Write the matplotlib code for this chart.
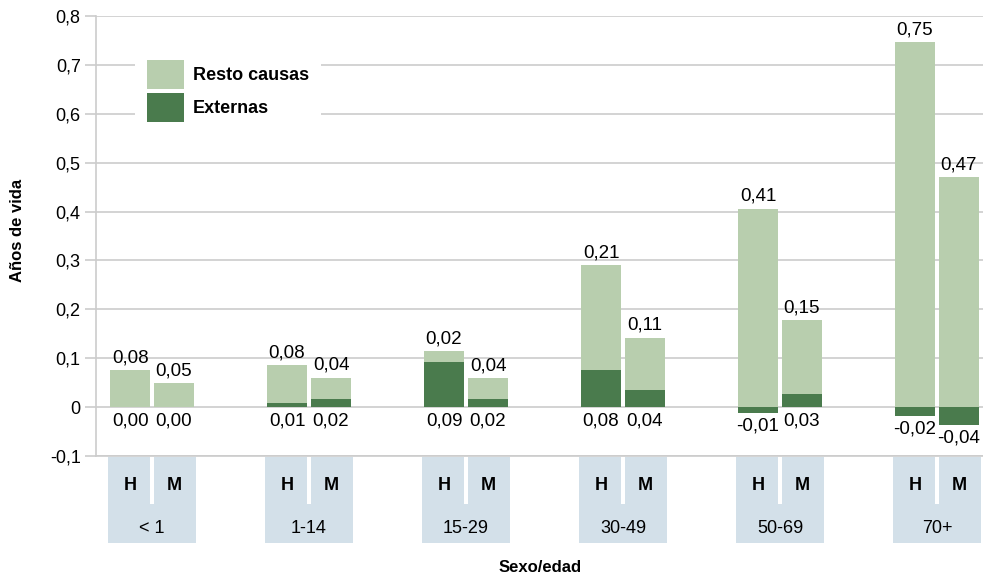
import numpy as np
import matplotlib
matplotlib.use('Agg')
import matplotlib.pyplot as plt
from matplotlib.patches import Rectangle
from matplotlib.transforms import blended_transform_factory

plt.rcParams['font.family'] = ['Liberation Sans', 'DejaVu Sans']

grupos = ['< 1', '1-14', '15-29', '30-49', '50-69', '70+']
resto_h = [0.076, 0.077, 0.022, 0.214, 0.406, 0.746]
resto_m = [0.049, 0.044, 0.043, 0.106, 0.151, 0.470]
ext_h = [0.0, 0.009, 0.092, 0.076, -0.012, -0.018]
ext_m = [0.0, 0.016, 0.016, 0.036, 0.027, -0.036]

c_resto = '#b8ceae'
c_ext = '#4a7b4d'
c_box = '#d3e0e9'
c_grid = '#cccccc'


def fmt(v):
    return ('%.2f' % v).replace('.', ',')


fig = plt.figure(figsize=(9.83, 5.76), dpi=100)
ax = fig.add_axes([96 / 983, 120 / 576, 887 / 983, 440 / 576])

x = np.arange(len(grupos))
w = 0.255
off = 0.14

for sexo, dx, resto, ext in [('H', -off, resto_h, ext_h), ('M', off, resto_m, ext_m)]:
    resto = np.array(resto)
    ext = np.array(ext)
    base = np.maximum(ext, 0)
    ax.bar(x + dx, ext, w, color=c_ext, zorder=3)
    ax.bar(x + dx, resto, w, bottom=base, color=c_resto, zorder=3)
    for i in range(len(x)):
        top = base[i] + resto[i]
        ax.text(x[i] + dx, top + 0.008, fmt(resto[i]), ha='center', va='bottom',
                fontsize=13.5, zorder=4)
        low = min(ext[i], 0)
        ax.text(x[i] + dx, low - 0.01, fmt(ext[i]), ha='center', va='top',
                fontsize=13.5, zorder=4)

# legend first so the labels are right
ax.bar([0], [0], 0, color=c_resto, label='Resto causas')
ax.bar([0], [0], 0, color=c_ext, label='Externas')
h, l = ax.get_legend_handles_labels()
leg = ax.legend(h[-2:], l[-2:], loc='upper left', bbox_to_anchor=(39 / 887, 1 - 32 / 440),
                frameon=True, facecolor='white', edgecolor='none', framealpha=1,
                fancybox=False, prop={'weight': 'bold', 'size': 13},
                handlelength=2.05, handleheight=2.1, labelspacing=0.22,
                handletextpad=0.5, borderpad=0.65, borderaxespad=0)
leg.set_zorder(5)

ax.set_xlim(-0.357, 5.293)
ax.set_ylim(-0.1, 0.8)
ax.set_yticks(np.arange(-0.1, 0.81, 0.1))
ax.set_yticklabels(['0' if abs(v) < 1e-9 else ('%.1f' % v).replace('.', ',')
                    for v in np.arange(-0.1, 0.81, 0.1)], fontsize=13)
ax.set_xticks([])
ax.grid(axis='y', color=c_grid, linewidth=1.2, zorder=0)
ax.tick_params(axis='y', length=8, color=c_grid, width=1.2, pad=3)
for s in ['top', 'right']:
    ax.spines[s].set_visible(False)
ax.spines['left'].set_color(c_grid)
ax.spines['left'].set_linewidth(1.2)
ax.spines['bottom'].set_color(c_grid)
ax.spines['bottom'].set_linewidth(1.2)

# category boxes under the axis
tr = blended_transform_factory(ax.transData, ax.transAxes)
px = 1 / 157
for i, g in enumerate(grupos):
    x0 = x[i] - off - w / 2 - 2 * px
    x1 = x[i] + off + w / 2 + 2 * px
    ax.add_patch(Rectangle((x0, -0.198), x1 - x0, 0.196, transform=tr,
                           color=c_box, clip_on=False, lw=0))
    ax.add_patch(Rectangle((x[i] - 0.5 * px * 3.5, -0.108), 3.5 * px, 0.108, transform=tr,
                           color='white', clip_on=False, lw=0))
    ax.text(x[i] - off, -0.068, 'H', transform=tr, ha='center', va='center',
            fontsize=13, fontweight='bold')
    ax.text(x[i] + off, -0.068, 'M', transform=tr, ha='center', va='center',
            fontsize=13, fontweight='bold')
    ax.text(x[i], -0.164, g, transform=tr, ha='center', va='center', fontsize=13)

fig.text(18 / 983, 1 - 230 / 576, 'Años de vida', rotation=90, ha='center', va='center',
         fontsize=12, fontweight='bold')
fig.text(540 / 983, 1 - 568 / 576, 'Sexo/edad', ha='center', va='center',
         fontsize=12, fontweight='bold')

fig.savefig('out.png', dpi=100)
